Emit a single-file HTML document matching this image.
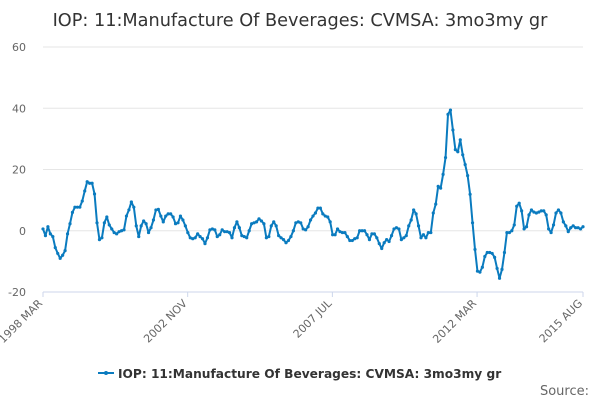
<!DOCTYPE html>
<html><head><meta charset="utf-8"><style>
body{margin:0;background:#fff;font-family:"DejaVu Sans",sans-serif}
svg{display:block;font-family:"DejaVu Sans",sans-serif}
</style></head><body>
<svg id="chart" width="600" height="400">
<text x="300" y="26" text-anchor="middle" font-size="17.7" fill="#333">IOP: 11:Manufacture Of Beverages: CVMSA: 3mo3my gr</text>
<g id="grid"></g><g id="xaxis"></g><g id="series"></g>
<g>
<line x1="98" y1="373" x2="114" y2="373" stroke="#0a7bbf" stroke-width="2"/>
<circle cx="106" cy="373" r="2" fill="#0a7bbf"/>
<text x="118" y="378" font-size="12.2" font-weight="bold" fill="#333">IOP: 11:Manufacture Of Beverages: CVMSA: 3mo3my gr</text>
</g>
<text x="589" y="395" text-anchor="end" font-size="13" fill="#666">Source:</text>
</svg>
<script>
const yTicks=[-20,0,20,40,60];
const xTickLabels=["1998 MAR","2002 NOV","2007 JUL","2012 MAR","2015 AUG"];
const xTickMonths=[0,56,112,168,209];
const values=[0.6,-1.6,1.3,-1,-1.9,-5.5,-7.4,-9,-8,-6.5,-1,2.3,6,7.7,7.7,7.7,9.7,13,16,15.5,15.5,12,2.6,-2.9,-2.3,2.6,4.5,1.9,0.6,-0.6,-1,-0.3,0,0.3,4.8,6.8,9.4,7.7,1.6,-1.9,1.6,3.2,2.3,-0.6,1,3.5,6.8,7,4.8,2.9,4.8,5.5,5.5,4.5,2.3,2.6,4.8,3.5,1.6,-0.6,-2.3,-2.6,-2.3,-1,-1.9,-2.6,-4.2,-2.3,0.3,0.6,0.3,-1.9,-1.3,0.3,-0.3,-0.3,-0.6,-2.3,1,2.9,1,
-1.6,-1.9,-2.3,0,2.3,2.6,2.9,3.9,3.2,2.3,-2.3,-1.9,1.6,2.9,1.6,-1.6,-2.3,-2.9,-3.9,-3.2,-1.9,0,2.6,2.9,2.6,0.6,0.3,1.3,3.5,4.8,5.8,7.4,7.4,5.5,4.8,4.5,2.9,-1.3,-1.3,0.6,-0.3,-0.6,-0.6,-1.9,-3.2,-3.2,-2.6,-2.3,0,0,0,-1.3,-2.9,-1,-1,-2.3,-4.2,-5.8,-3.9,-2.9,-3.5,-1.6,0.6,1,0.6,-2.9,-2.3,-1.6,1.6,3.5,6.8,5.5,1.6,-2.3,-1.3,-2.3,-0.6,-0.6,
5.8,8.7,14.5,13.9,18.4,23.9,38,39.4,32.9,26.5,25.8,29.7,24.8,21.6,18,11.9,2.6,-6.1,-13.2,-13.5,-11.9,-8.4,-7.1,-7.1,-7.4,-8.7,-12.3,-15.5,-12.6,-7.1,-0.6,-0.6,0,1.9,8,9,6.5,0.6,1.3,5.2,6.8,6.1,5.8,6.1,6.5,6.5,5.2,0.6,-0.6,1.9,5.8,6.8,5.8,2.9,1.6,-0.3,1,1.6,1,1,0.6,1.3];
const X0=43,X1=583,Y0=292,Y1=47;
const ys=v=>Y0-(v-(-20))/80*(Y0-Y1);
const xm=m=>X0+m/209*(X1-X0);
const xi=i=>X0+i/(values.length-1)*(X1-X0);
const NS="http://www.w3.org/2000/svg";
function mk(t,a,p){const e=document.createElementNS(NS,t);for(const k in a)e.setAttribute(k,a[k]);p.appendChild(e);return e;}
const grid=document.getElementById('grid');
yTicks.forEach(v=>{
 if(v!==-20){const l=mk('line',{x1:X0,x2:X1,y1:ys(v),y2:ys(v),stroke:'#e6e6e6'},grid);
 
 }
 const t=mk('text',{x:26,y:ys(v)+4,'text-anchor':'end','font-size':11,fill:'#666'},grid);t.textContent=v;
 
 
});
const xa=document.getElementById('xaxis');
const ax=mk('line',{x1:X0,x2:X1,y1:Y0,y2:Y0,stroke:'#ccd6eb'},xa);


xTickMonths.forEach((m,i)=>{
 const x=xm(m);
 mk('line',{x1:x,x2:x,y1:Y0,y2:Y0+5,stroke:'#ccd6eb'},xa);
 const t=mk('text',{x:x,y:Y0+12,'text-anchor':'end','font-size':11,fill:'#666',transform:`rotate(-45 ${x} ${Y0+12})`},xa);
 t.textContent=xTickLabels[i];
 
 
});
const s=document.getElementById('series');
const p=mk('polyline',{points:values.map((v,i)=>xi(i)+','+ys(v)).join(' '),fill:'none',stroke:'#0a7bbf','stroke-width':2,'stroke-linejoin':'round'},s);


values.forEach((v,i)=>{const c=mk('circle',{cx:xi(i),cy:ys(v),r:1.6,fill:'#0a7bbf'},s);
 
 });
</script>
</body></html>
